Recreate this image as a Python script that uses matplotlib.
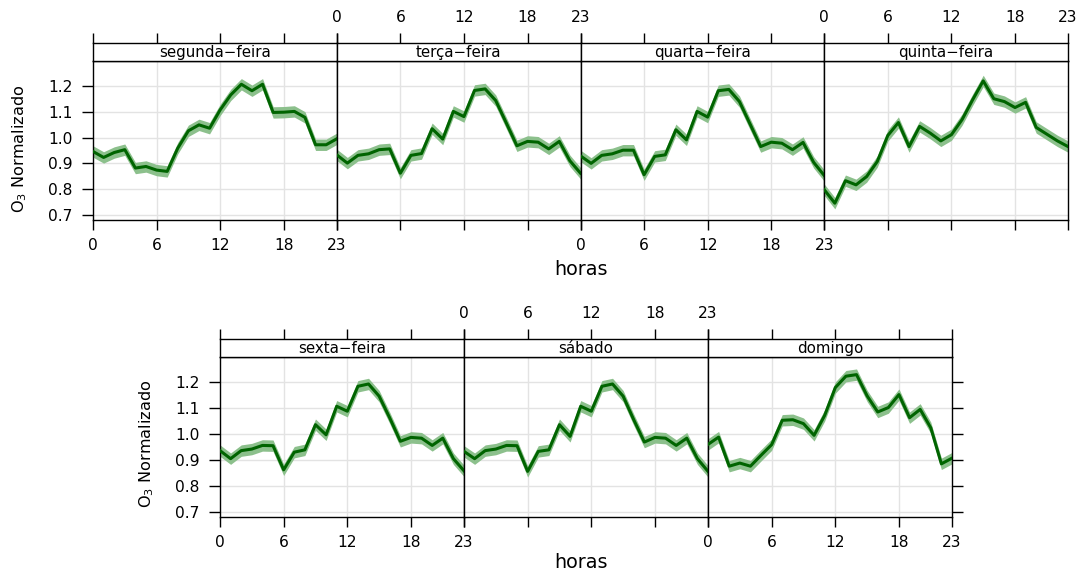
import matplotlib
matplotlib.use("Agg")
import matplotlib.pyplot as plt
import numpy as np

plt.rcParams['font.family'] = ['DejaVu Sans']
plt.rcParams['axes.unicode_minus'] = True
plt.rcParams['mathtext.default'] = 'regular'

hours = np.arange(24)

dias = ['segunda\u2212feira', 'ter\u00e7a\u2212feira', 'quarta\u2212feira', 'quinta\u2212feira',
        'sexta\u2212feira', 's\u00e1bado', 'domingo']

segunda = [0.946, 0.923, 0.942, 0.953, 0.882, 0.888, 0.874, 0.869, 0.959, 1.026, 1.049, 1.036,
           1.107, 1.165, 1.206, 1.181, 1.206, 1.097, 1.098, 1.101, 1.078, 0.972, 0.972, 0.995]
terca = [0.933, 0.901, 0.931, 0.937, 0.953, 0.956, 0.862, 0.931, 0.938, 1.034, 0.994, 1.101,
         1.081, 1.182, 1.188, 1.143, 1.056, 0.968, 0.985, 0.982, 0.956, 0.985, 0.910, 0.862]
quarta = [0.929, 0.900, 0.931, 0.937, 0.951, 0.951, 0.856, 0.927, 0.933, 1.030, 0.991, 1.101,
          1.079, 1.181, 1.186, 1.139, 1.052, 0.965, 0.982, 0.978, 0.953, 0.981, 0.904, 0.853]
quinta = [0.798, 0.746, 0.833, 0.817, 0.849, 0.907, 1.008, 1.058, 0.965, 1.043, 1.017, 0.987,
          1.011, 1.069, 1.146, 1.219, 1.150, 1.139, 1.116, 1.136, 1.039, 1.013, 0.987, 0.965]
sexta = [0.935, 0.904, 0.935, 0.941, 0.955, 0.954, 0.861, 0.929, 0.938, 1.035, 0.996, 1.106,
         1.087, 1.183, 1.192, 1.145, 1.061, 0.971, 0.986, 0.983, 0.955, 0.983, 0.904, 0.857]
sabado = [0.932, 0.904, 0.935, 0.941, 0.955, 0.954, 0.855, 0.932, 0.938, 1.035, 0.990, 1.106,
          1.087, 1.183, 1.192, 1.145, 1.054, 0.968, 0.986, 0.983, 0.955, 0.983, 0.904, 0.855]
domingo = [0.959, 0.987, 0.875, 0.887, 0.875, 0.917, 0.958, 1.052, 1.054, 1.039, 0.994, 1.071,
           1.178, 1.222, 1.228, 1.146, 1.084, 1.101, 1.151, 1.062, 1.094, 1.023, 0.884, 0.906]
series = [segunda, terca, quarta, quinta, sexta, sabado, domingo]

ci = 0.022  # half width of the confidence band

xticks = [0, 6, 12, 18, 23]
yticks = [0.7, 0.8, 0.9, 1.0, 1.1, 1.2]
ylabels = ['0.7', '0.8', '0.9', '1.0', '1.1', '1.2']

W, H = 1082, 573
fig = plt.figure(figsize=(W / 100, H / 100), dpi=100)


def box(x0, y0, x1, y1):
    return [x0 / W, 1 - y1 / H, (x1 - x0) / W, (y1 - y0) / H]


line_col = '#006400'
band_col = '#8cc08c'
grid_col = '#e3e3e3'
tick_fs = 11.2


def panel(i, x0, x1, py0, py1, sy0, bottom_lab, top_lab, left_lab, right_ticks):
    ax = fig.add_axes(box(x0, py0, x1, py1))
    y = np.array(series[i])
    ax.fill_between(hours, y - ci, y + ci, color=band_col, lw=0, zorder=2)
    ax.plot(hours, y, color=line_col, lw=2.2, zorder=3)
    ax.set_xlim(0, 23)
    ax.set_ylim(0.681, 1.296)
    for g in yticks:
        ax.axhline(g, color=grid_col, lw=1, zorder=1)
    for g in [6, 12, 18]:
        ax.axvline(g, color=grid_col, lw=1, zorder=1)
    ax.set_xticks(xticks)
    ax.set_yticks(yticks)
    ax.tick_params(axis='x', direction='out', length=7.2, width=1, pad=6,
                   labelsize=tick_fs, labelbottom=bottom_lab, top=False)
    ax.tick_params(axis='y', direction='out', length=7.8, width=1, pad=7,
                   labelsize=tick_fs, left=left_lab, labelleft=left_lab,
                   right=right_ticks, labelright=False)
    ax.set_yticklabels(ylabels)
    for s in ax.spines.values():
        s.set_linewidth(1)
    # strip with the day name, top ticks drawn on it
    st = fig.add_axes(box(x0, sy0, x1, py0))
    st.set_xlim(0, 23)
    st.set_ylim(0, 1)
    st.set_yticks([])
    st.set_xticks(xticks)
    st.xaxis.set_ticks_position('top')
    st.tick_params(axis='x', direction='out', length=7.2, width=1, pad=5.5,
                   labelsize=tick_fs, labeltop=top_lab, labelbottom=False, bottom=False)
    for s in st.spines.values():
        s.set_linewidth(1)
    st.text(11.5, 0.45, dias[i], ha='center', va='center', fontsize=10.8)
    return ax


# top row
tw = (1068 - 93) / 4
for k in range(4):
    x0 = 93 + k * tw
    panel(k, x0, x0 + tw, 61, 220, 43, k % 2 == 0, k % 2 == 1, k == 0, False)

# bottom row
bw = 244
for k in range(3):
    x0 = 220 + k * bw
    panel(4 + k, x0, x0 + bw, 357, 516.5, 338.5, k % 2 == 0, k % 2 == 1, k == 0, k == 2)

lab = r'O$_3$ Normalizado'
fig.text(20 / W, 1 - 149 / H, lab, rotation=90, ha='center', va='center', fontsize=11.6)
fig.text(147 / W, 1 - 444 / H, lab, rotation=90, ha='center', va='center', fontsize=11.6)
fig.text(581 / W, 1 - 270 / H, 'horas', ha='center', va='center', fontsize=13.8)
fig.text(581 / W, 1 - 563 / H, 'horas', ha='center', va='center', fontsize=13.8)

fig.savefig('out.png', dpi=100)
